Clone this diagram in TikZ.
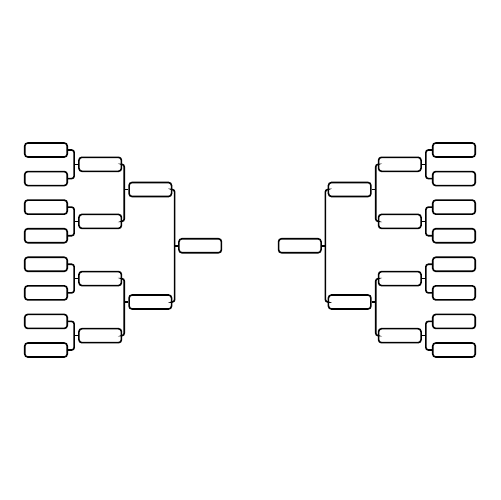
\documentclass[tikz,border=0pt]{standalone}
\usetikzlibrary{calc}
\tikzset{>=stealth}
\tikzset{
	team/.style={draw, line width=0.9pt, rounded corners=0.06cm, minimum width=0.85cm, minimum height=0.28cm, inner sep=0pt},
	link/.style={draw, line width=0.9pt, rounded corners=0.05cm}
}

\begin{document}
\begin{tikzpicture}[x=0.02cm, y=-0.02cm]
	\useasboundingbox (0,0) rectangle (500,500);
	% first round
	\foreach \i in {1,...,8} {
		\node[team] (l1-\i) at (46, {150+(\i-1)*200/7}) {};
		\node[team] (r1-\i) at (454, {150+(\i-1)*200/7}) {};
	}
	% quarter finals
	\foreach \i/\y in {1/164.3, 2/221.4, 3/278.6, 4/335.7} {
		\node[team] (l2-\i) at (100.2, \y) {};
		\node[team] (r2-\i) at (399.8, \y) {};
	}
	% semi finals
	\foreach \i/\y in {1/189.5, 2/302} {
		\node[team] (l3-\i) at (150.3, \y) {};
		\node[team] (r3-\i) at (349.7, \y) {};
	}
	\node[team] (lf) at (200.2, 245.75) {};
	\node[team] (rf) at (299.8, 245.75) {};
	% brackets
	\foreach \i in {1,...,4} {
		\pgfmathtruncatemacro\a{2*\i-1}
		\pgfmathtruncatemacro\b{2*\i}
		\draw[link] (l1-\a.east) -| ([xshift=-0.08cm]l2-\i.west) |- (l1-\b.east);
		\draw[link] (l2-\i.west) -- ++(-0.08cm,0);
		\draw[link] (r1-\a.west) -| ([xshift=0.08cm]r2-\i.east) |- (r1-\b.west);
		\draw[link] (r2-\i.east) -- ++(0.08cm,0);
	}
	\foreach \i in {1,2} {
		\pgfmathtruncatemacro\a{2*\i-1}
		\pgfmathtruncatemacro\b{2*\i}
		\draw[link] (l2-\a.east) -| ([xshift=-0.08cm]l3-\i.west) |- (l2-\b.east);
		\draw[link] (l3-\i.west) -- ++(-0.08cm,0);
		\draw[link] (r2-\a.west) -| ([xshift=0.08cm]r3-\i.east) |- (r2-\b.west);
		\draw[link] (r3-\i.east) -- ++(0.08cm,0);
	}
	\draw[link] (l3-1.east) -| ([xshift=-0.07cm]lf.west) |- (l3-2.east);
	\draw[link] (lf.west) -- ++(-0.07cm,0);
	\draw[link] (r3-1.west) -| ([xshift=0.07cm]rf.east) |- (r3-2.west);
	\draw[link] (rf.east) -- ++(0.07cm,0);
\end{tikzpicture}
\end{document}
